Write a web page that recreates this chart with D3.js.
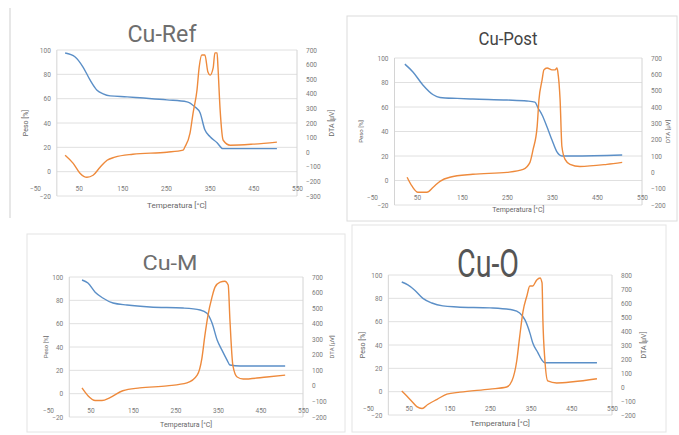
<!DOCTYPE html>
<html>
<head>
<meta charset="utf-8">
<script src="https://cdn.jsdelivr.net/npm/d3@7"></script>
<style>
  body { margin: 0; background: #fff; }
  svg text { font-family: Roboto, "Liberation Sans", sans-serif; }
</style>
</head>
<body>
<script>
'use strict';

// ---- data ----
// shared tick values
const xTicks = [-50, 50, 150, 250, 350, 450, 550];
const leftTicks = [-20, 0, 20, 40, 60, 80, 100];

// Cu-Ref
const refTgT  = [19, 42, 60, 76, 92, 106, 122, 161, 190, 252, 298, 316, 328, 339, 351, 367, 380, 403, 504];
const refTgV  = [97.5, 94.3, 86, 75.4, 67, 64, 62.3, 61.5, 60.7, 59, 57.4, 53.3, 48.4, 34.4, 28.7, 23.8, 18.9, 18.9, 18.9];
const refDtaT = [19, 37, 53, 69, 83, 99, 115, 133, 174, 252, 289, 293, 305, 312, 321, 326, 332, 339, 346, 351, 358, 362, 367, 369, 374, 381, 397, 449, 504];
const refDtaV = [-21, -75, -144, -172, -158, -103, -55, -34, -14, 0, 14, 34, 130, 268, 426, 583, 666, 666, 549, 528, 577, 680, 680, 583, 288, 82, 48, 55, 69];

// Cu-Post
const postTgT  = [23, 41, 63, 86, 101, 139, 174, 250, 294, 312, 319, 328, 339, 350, 361, 372, 397, 506];
const postTgV  = [95, 88.6, 78, 70, 67.8, 67, 66.5, 65.7, 64.9, 64, 59.2, 53.5, 43.7, 33, 23.3, 20, 20, 20.8];
const postDtaT = [28, 39, 52, 72, 86, 101, 123, 174, 250, 286, 301, 308, 317, 321, 328, 332, 339, 350, 357, 361, 363, 368, 372, 379, 390, 412, 472, 506];
const postDtaV = [-30, -85, -122, -122, -91, -55, -30, -12, 0, 18, 61, 140, 280, 444, 566, 627, 639, 627, 627, 639, 614, 444, 158, 79, 49, 36, 49, 61];

// Cu-M
const mTgT  = [30, 44, 61, 79, 103, 136, 190, 268, 308, 324, 336, 348, 359, 371, 378, 402, 508];
const mTgV  = [97.4, 94.8, 87, 82, 77.7, 76, 74.3, 73.4, 71.7, 69, 60.6, 46, 37.5, 29, 24.6, 23.7, 23.7];
const mDtaT = [30, 44, 61, 77, 96, 126, 166, 230, 277, 301, 312, 319, 326, 336, 343, 355, 366, 374, 378, 385, 395, 409, 465, 508];
const mDtaV = [-13, -63, -94, -94, -75, -31, -13, 0, 19, 69, 176, 321, 447, 572, 635, 667, 673, 648, 428, 132, 57, 44, 57, 69];

// Cu-O
const oTgT  = [33, 48, 65, 85, 107, 134, 169, 250, 306, 323, 336, 348, 355, 368, 377, 385, 404, 513];
const oTgV  = [94, 91.5, 87, 80, 76, 73.5, 72.6, 71.8, 70, 67.5, 61.5, 50.4, 41.9, 33.3, 27.4, 24.8, 24.8, 24.8];
const oDtaT = [33, 46, 58, 70, 83, 97, 120, 144, 176, 250, 291, 304, 316, 323, 331, 341, 348, 355, 365, 373, 378, 380, 385, 392, 414, 454, 513];
const oDtaV = [-29, -66, -103, -140, -154, -125, -88, -51, -37, -15, 0, 44, 191, 360, 537, 654, 721, 721, 765, 779, 743, 485, 191, 44, 29, 37, 59];

const titles = ["Cu-Ref", "Cu-Post", "Cu-M", "Cu-O"];
const xTitle = "Temperatura [°C]";
const leftTitle = "Peso [%]";
const rightTitle = "DTA [µV]";

// ---- layout of the four panels ----
const panels = [
  { title: titles[0], tg: [refTgT, refTgV], dta: [refDtaT, refDtaV], right: [-300, 700],
    x0: 35, x1: 297, top: 50, bot: 196,
    tX: 162, tY: 42, tSize: 24, tLen: 69, tColor: "#6e6e6e",
    lX: 28, rX: 334, xtY: 208, axSize: 7 },
  { title: titles[1], tg: [postTgT, postTgV], dta: [postDtaT, postDtaV], right: [-200, 700],
    x0: 372, x1: 642, top: 58, bot: 205,
    tX: 508, tY: 45, tSize: 18, tLen: 59, tColor: "#444",
    lX: 363, rX: 670, xtY: 212, axSize: 6 },
  { title: titles[2], tg: [mTgT, mTgV], dta: [mDtaT, mDtaV], right: [-200, 700],
    x0: 48, x1: 303, top: 277, bot: 417,
    tX: 170, tY: 270, tSize: 21, tLen: 55, tColor: "#6e6e6e",
    lX: 48, rX: 334, xtY: 427, axSize: 6 },
  { title: titles[3], tg: [oTgT, oTgV], dta: [oDtaT, oDtaV], right: [-200, 800],
    x0: 368, x1: 612, top: 275, bot: 415,
    tX: 488, tY: 277, tSize: 38, tLen: 62, tColor: "#555",
    lX: 365, rX: 646, xtY: 426, axSize: 7 }
];

const svg = d3.select('body').append('svg')
  .attr('width', 679)
  .attr('height', 435);

// panel frames
svg.append('line')
  .attr('x1', 10).attr('x2', 10).attr('y1', 8).attr('y2', 218)
  .attr('stroke', '#cfcfcf');
svg.append('rect')
  .attr('x', 347).attr('y', 16).attr('width', 330).attr('height', 205)
  .attr('fill', 'none').attr('stroke', '#dcdcdc');
svg.append('rect')
  .attr('x', 27).attr('y', 234).attr('width', 318).attr('height', 198)
  .attr('fill', 'none').attr('stroke', '#e4e4e4');
svg.append('rect')
  .attr('x', 352).attr('y', 225).attr('width', 314).attr('height', 207)
  .attr('fill', 'none').attr('stroke', '#e4e4e4');

panels.forEach(drawPanel);

function drawPanel(p) {
  let g = svg.append('g');

  let x = d3.scaleLinear().domain([-50, 550]).range([p.x0, p.x1]);
  let yL = d3.scaleLinear().domain([-20, 100]).range([p.bot, p.top]);
  let yR = d3.scaleLinear().domain(p.right).range([p.bot, p.top]);

  // gridlines
  g.selectAll('.grid')
    .data(leftTicks)
    .enter()
    .append('line')
    .attr('x1', x(0))
    .attr('x2', x(550))
    .attr('y1', d => yL(d))
    .attr('y2', d => yL(d))
    .attr('stroke', '#e0e0e0')
    .attr('stroke-width', 1);

  // vertical axis lines
  [0, 550].forEach(v => {
    g.append('line')
      .attr('x1', x(v)).attr('x2', x(v))
      .attr('y1', p.top).attr('y2', p.bot)
      .attr('stroke', '#d4d4d4');
  });

  // axes (labels only, Excel-like)
  let leftAxis = d3.axisLeft(yL).tickValues(leftTicks).tickSize(0).tickPadding(6);
  g.append('g')
    .attr('transform', 'translate(' + x(0) + ',0)')
    .call(leftAxis);

  let rTicks = d3.range(p.right[0], p.right[1] + 1, 100);
  let rightAxis = d3.axisRight(yR).tickValues(rTicks).tickSize(0).tickPadding(9);
  g.append('g')
    .attr('transform', 'translate(' + x(550) + ',0)')
    .call(rightAxis);

  let bottomAxis = d3.axisBottom(x).tickValues(xTicks).tickSize(0).tickPadding(3);
  g.append('g')
    .attr('transform', 'translate(0,' + yL(-10) + ')')
    .call(bottomAxis);

  g.selectAll('.domain').remove();
  g.selectAll('.tick text')
    .style('font-size', '6.5px')
    .style('font-family', 'Roboto, sans-serif')
    .attr('fill', '#7a7a7a');

  // curves
  let tg = p.tg[0].map((t, i) => [t, p.tg[1][i]]);
  let dta = p.dta[0].map((t, i) => [t, p.dta[1][i]]);

  let tgLine = d3.line()
    .x(d => x(d[0]))
    .y(d => yL(d[1]))
    .curve(d3.curveMonotoneX);
  let dtaLine = d3.line()
    .x(d => x(d[0]))
    .y(d => yR(d[1]))
    .curve(d3.curveMonotoneX);

  g.append('path')
    .datum(tg)
    .attr('d', tgLine)
    .attr('fill', 'none')
    .attr('stroke', '#5b8fc7')
    .attr('stroke-width', 1.4);

  g.append('path')
    .datum(dta)
    .attr('d', dtaLine)
    .attr('fill', 'none')
    .attr('stroke', '#ee8a3c')
    .attr('stroke-width', 1.4);

  // titles
  g.append('text')
    .attr('x', p.tX)
    .attr('y', p.tY)
    .attr('text-anchor', 'middle')
    .attr('textLength', p.tLen)
    .attr('lengthAdjust', 'spacingAndGlyphs')
    .style('font-size', p.tSize + 'px')
    .attr('fill', p.tColor)
    .text(p.title);

  let midY = (p.top + p.bot) / 2;
  g.append('text')
    .attr('transform', 'translate(' + p.lX + ',' + midY + ')rotate(-90)')
    .attr('text-anchor', 'middle')
    .style('font-size', p.axSize + 'px')
    .attr('fill', '#666')
    .text(leftTitle);

  g.append('text')
    .attr('transform', 'translate(' + p.rX + ',' + midY + ')rotate(-90)')
    .attr('text-anchor', 'middle')
    .style('font-size', p.axSize + 'px')
    .attr('fill', '#666')
    .text(rightTitle);

  g.append('text')
    .attr('x', (x(0) + x(550)) / 2)
    .attr('y', p.xtY)
    .attr('text-anchor', 'middle')
    .style('font-size', (p.axSize + 1) + 'px')
    .attr('fill', '#666')
    .text(xTitle);
}
</script>
</body>
</html>
